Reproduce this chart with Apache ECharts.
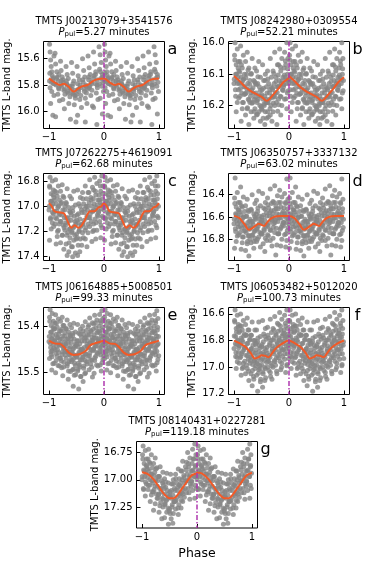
<!DOCTYPE html>
<html><head><meta charset="utf-8">
<script src="https://cdn.jsdelivr.net/npm/echarts@6/dist/echarts.min.js"></script>
<style>html,body{margin:0;padding:0;background:#fff}#c{width:374px;height:561px}</style>
</head><body><div id="c"></div>
<script>
// ---------- DATA ----------
const names = ['TMTS J00213079+3541576','TMTS J08242980+0309554','TMTS J07262275+4619091','TMTS J06350757+3337132','TMTS J06164885+5008501','TMTS J06053482+5012020','TMTS J08140431+0227281'];
const periods = ['5.27','52.21','62.68','63.02','99.33','100.73','119.18'];
const letters = ['a','b','c','d','e','f','g'];
const xTicks = [-1, 0, 1];
const yTicksA = [15.6, 15.8, 16.0];
const yTicksB = [16.0, 16.1, 16.2];
const yTicksC = [16.8, 17.0, 17.2, 17.4];
const yTicksD = [16.4, 16.6, 16.8];
const yTicksE = [15.4, 15.5];
const yTicksF = [16.6, 16.8, 17.0, 17.2];
const yTicksG = [16.75, 17.00, 17.25];
const phaseZero = 0;

// one pulsation cycle (phase 0..1); the figure shows it twice (-1..0 and 0..1)
const ptsA = [
[.01,15.49],[.02,15.55],[.03,15.61],[.04,15.66],[.05,15.70],[.06,15.73],[.07,15.76],[.08,15.79],[.02,15.82],[.05,15.85],[.09,15.88],[.03,15.94],[.07,16.03],[.09,15.58],[.01,15.77],
[.11,15.56],[.12,15.64],[.14,15.70],[.15,15.74],[.17,15.77],[.13,15.80],[.18,15.83],[.16,15.87],[.19,15.92],[.12,16.04],[.18,15.72],
[.21,15.62],[.22,15.69],[.24,15.74],[.26,15.78],[.23,15.81],[.27,15.84],[.29,15.87],[.25,15.91],[.28,15.98],[.22,15.77],
[.31,15.66],[.33,15.72],[.35,15.75],[.32,15.79],[.37,15.82],[.34,15.85],[.38,15.89],[.36,15.94],[.39,16.06],[.33,15.80],
[.41,15.63],[.43,15.71],[.45,15.77],[.42,15.81],[.47,15.84],[.44,15.87],[.48,15.90],[.46,15.95],[.49,16.08],[.42,15.86],
[.51,15.66],[.53,15.73],[.55,15.76],[.52,15.79],[.57,15.82],[.54,15.85],[.58,15.88],[.56,15.91],[.59,15.97],[.52,16.03],
[.61,15.60],[.63,15.69],[.65,15.74],[.62,15.78],[.67,15.80],[.64,15.83],[.68,15.86],[.66,15.90],[.69,15.94],[.66,16.08],
[.71,15.58],[.73,15.67],[.75,15.72],[.72,15.76],[.77,15.79],[.74,15.81],[.78,15.84],[.76,15.88],[.79,15.96],[.73,15.82],
[.81,15.55],[.83,15.64],[.85,15.70],[.82,15.73],[.87,15.76],[.84,15.79],[.88,15.82],[.86,15.86],[.89,15.91],[.81,15.97],[.87,16.10],
[.91,15.51],[.93,15.57],[.95,15.63],[.92,15.68],[.97,15.72],[.94,15.75],[.98,15.78],[.96,15.81],[.99,15.85],[.93,15.90],[.97,16.02],
[.015,15.71],[.075,15.745],[.045,15.78],[.135,15.75],[.105,15.79],[.175,15.82],[.255,15.76],[.215,15.80],[.285,15.83],[.315,15.77],[.375,15.81],[.345,15.86],
[.435,15.79],[.405,15.83],[.475,15.88],[.565,15.80],[.535,15.83],[.505,15.87],[.615,15.76],[.675,15.81],[.645,15.85],[.725,15.74],[.765,15.78],[.705,15.83],
[.845,15.72],[.805,15.75],[.875,15.80],[.935,15.70],[.975,15.74],[.915,15.79]
];
const ptsB = [
[.02,16.00],[.06,16.02],[.01,16.04],[.08,16.06],[.04,16.07],[.09,16.09],[.03,16.10],[.07,16.11],[.05,16.12],[.00,16.13],[.08,16.15],[.03,16.17],[.06,16.19],[.04,16.22],
[.12,16.01],[.17,16.04],[.11,16.06],[.15,16.08],[.19,16.10],[.13,16.11],[.16,16.12],[.10,16.13],[.18,16.14],[.14,16.16],[.11,16.17],[.17,16.19],[.15,16.21],[.13,16.25],
[.24,16.03],[.21,16.06],[.27,16.08],[.23,16.10],[.29,16.12],[.25,16.13],[.20,16.14],[.28,16.15],[.22,16.16],[.26,16.18],[.29,16.19],[.24,16.21],[.21,16.23],[.27,16.26],
[.33,16.05],[.38,16.08],[.31,16.10],[.36,16.12],[.39,16.13],[.32,16.15],[.35,16.16],[.30,16.17],[.37,16.18],[.34,16.19],[.38,16.21],[.31,16.22],[.36,16.24],
[.45,16.06],[.41,16.09],[.48,16.11],[.43,16.13],[.46,16.14],[.40,16.16],[.49,16.17],[.44,16.18],[.42,16.19],[.47,16.20],[.45,16.22],[.41,16.23],[.48,16.25],
[.52,16.07],[.57,16.10],[.54,16.12],[.59,16.14],[.51,16.15],[.56,16.17],[.53,16.18],[.58,16.19],[.55,16.20],[.50,16.21],[.57,16.22],[.53,16.24],[.56,16.26],
[.66,16.05],[.61,16.09],[.68,16.11],[.63,16.13],[.65,16.15],[.60,16.16],[.69,16.17],[.64,16.18],[.62,16.19],[.67,16.20],[.61,16.22],[.66,16.23],[.69,16.25],
[.74,16.03],[.79,16.07],[.71,16.09],[.76,16.11],[.73,16.13],[.78,16.14],[.70,16.15],[.75,16.16],[.72,16.17],[.77,16.19],[.74,16.20],[.71,16.22],[.78,16.26],
[.83,16.02],[.87,16.05],[.81,16.07],[.85,16.09],[.89,16.11],[.82,16.12],[.86,16.13],[.80,16.14],[.88,16.15],[.84,16.17],[.81,16.18],[.87,16.20],[.85,16.23],
[.96,16.00],[.92,16.03],[.98,16.05],[.94,16.07],[.91,16.08],[.97,16.10],[.93,16.11],[.99,16.12],[.95,16.13],[.90,16.14],[.97,16.16],[.92,16.18],[.96,16.21],
[.015,16.055],[.075,16.08],[.045,16.10],[.005,16.116],[.065,16.13],[.025,16.15],[.085,16.176],
[.135,16.07],[.105,16.094],[.175,16.115],[.145,16.13],[.115,16.146],[.185,16.165],[.155,16.19],
[.255,16.087],[.215,16.112],[.285,16.133],[.235,16.147],[.205,16.162],[.275,16.183],[.245,16.207],
[.315,16.098],[.375,16.124],[.345,16.143],[.305,16.158],[.385,16.172],[.325,16.193],[.365,16.219],
[.435,16.108],[.405,16.133],[.475,16.152],[.455,16.168],[.415,16.184],[.495,16.203],[.425,16.228],
[.565,16.12],[.535,16.145],[.505,16.165],[.585,16.181],[.545,16.195],[.515,16.214],[.595,16.24],
[.615,16.115],[.675,16.14],[.645,16.16],[.695,16.174],[.605,16.19],[.655,16.21],[.625,16.236],
[.725,16.098],[.765,16.123],[.705,16.144],[.785,16.158],[.745,16.173],[.715,16.192],[.795,16.218],
[.845,16.077],[.805,16.103],[.875,16.122],[.825,16.137],[.895,16.152],[.855,16.172],[.815,16.197],
[.935,16.058],[.975,16.083],[.915,16.103],[.955,16.118],[.905,16.134],[.985,16.153],[.945,16.178]
];
const ptsC = [
[.02,16.77],[.06,16.80],[.01,16.84],[.08,16.87],[.04,16.90],[.09,16.93],[.03,16.96],[.07,16.98],[.05,17.00],[.00,17.03],[.08,17.06],[.03,17.09],[.06,17.13],[.04,17.18],[.01,17.27],
[.12,16.79],[.17,16.84],[.11,16.88],[.15,16.92],[.19,16.95],[.13,16.98],[.16,17.01],[.10,17.04],[.18,17.07],[.14,17.10],[.11,17.14],[.17,17.19],[.15,17.24],[.13,17.30],
[.24,16.83],[.21,16.88],[.27,16.93],[.23,16.97],[.29,17.00],[.25,17.03],[.20,17.06],[.28,17.09],[.22,17.12],[.26,17.15],[.29,17.19],[.24,17.23],[.21,17.29],[.27,17.34],
[.33,16.86],[.38,16.92],[.31,16.97],[.36,17.01],[.39,17.05],[.32,17.09],[.35,17.12],[.30,17.15],[.37,17.18],[.34,17.21],[.38,17.25],[.31,17.30],[.36,17.36],[.33,17.39],
[.45,16.88],[.41,16.94],[.48,16.99],[.43,17.04],[.46,17.08],[.40,17.11],[.49,17.14],[.44,17.17],[.42,17.20],[.47,17.23],[.45,17.27],[.41,17.32],[.48,17.37],[.43,17.40],
[.52,16.87],[.57,16.93],[.54,16.98],[.59,17.03],[.51,17.07],[.56,17.10],[.53,17.13],[.58,17.16],[.55,17.19],[.50,17.22],[.57,17.26],[.53,17.31],[.56,17.36],[.52,17.39],
[.66,16.84],[.61,16.89],[.68,16.94],[.63,16.98],[.65,17.02],[.60,17.05],[.69,17.08],[.64,17.11],[.62,17.14],[.67,17.17],[.61,17.21],[.66,17.26],[.69,17.32],
[.74,16.79],[.79,16.85],[.71,16.89],[.76,16.93],[.73,16.97],[.78,17.00],[.70,17.03],[.75,17.06],[.72,17.09],[.77,17.12],[.74,17.16],[.71,17.21],[.78,17.28],
[.83,16.77],[.87,16.82],[.81,16.87],[.85,16.91],[.89,16.95],[.82,16.98],[.86,17.01],[.80,17.04],[.88,17.07],[.84,17.10],[.81,17.14],[.87,17.19],[.85,17.26],
[.96,16.76],[.92,16.80],[.98,16.84],[.94,16.88],[.91,16.91],[.97,16.94],[.93,16.97],[.99,17.00],[.95,17.02],[.90,17.05],[.97,17.08],[.92,17.12],[.96,17.17],[.94,17.25],
[.015,16.85],[.075,16.91],[.045,16.96],[.005,17.00],[.065,17.05],[.025,17.10],[.085,17.16],
[.135,16.89],[.105,16.95],[.175,17.00],[.145,17.04],[.115,17.09],[.185,17.14],[.155,17.20],
[.255,16.92],[.215,16.98],[.285,17.03],[.235,17.07],[.205,17.12],[.275,17.17],[.245,17.23],
[.315,16.98],[.375,17.04],[.345,17.09],[.305,17.13],[.385,17.18],[.325,17.23],[.365,17.29],
[.435,17.01],[.405,17.07],[.475,17.12],[.455,17.16],[.415,17.21],[.495,17.26],[.425,17.32],
[.565,17.00],[.535,17.06],[.505,17.11],[.585,17.15],[.545,17.20],[.515,17.25],[.595,17.31],
[.615,16.94],[.675,17.00],[.645,17.05],[.695,17.09],[.605,17.14],[.655,17.19],[.625,17.25],
[.725,16.89],[.765,16.95],[.705,17.00],[.785,17.04],[.745,17.09],[.715,17.14],[.795,17.20],
[.845,16.88],[.805,16.94],[.875,16.99],[.825,17.03],[.895,17.08],[.855,17.13],[.815,17.19],
[.935,16.84],[.975,16.90],[.915,16.95],[.955,16.99],[.905,17.04],[.985,17.09],[.945,17.15]
];
const ptsD = [
[.02,16.25],[.06,16.38],[.01,16.43],[.08,16.47],[.04,16.51],[.09,16.54],[.03,16.57],[.07,16.60],[.05,16.63],[.00,16.66],[.08,16.69],[.03,16.73],[.06,16.77],[.04,16.82],[.01,16.88],
[.12,16.33],[.17,16.42],[.11,16.47],[.15,16.51],[.19,16.55],[.13,16.58],[.16,16.61],[.10,16.64],[.18,16.67],[.14,16.70],[.11,16.74],[.17,16.78],[.15,16.83],[.13,16.89],
[.24,16.44],[.21,16.50],[.27,16.55],[.23,16.59],[.29,16.62],[.25,16.65],[.20,16.68],[.28,16.71],[.22,16.74],[.26,16.77],[.29,16.80],[.24,16.84],[.21,16.90],[.27,16.95],
[.33,16.40],[.38,16.48],[.31,16.53],[.36,16.57],[.39,16.61],[.32,16.64],[.35,16.67],[.30,16.70],[.37,16.73],[.34,16.76],[.38,16.79],[.31,16.83],[.36,16.88],
[.45,16.37],[.41,16.45],[.48,16.50],[.43,16.55],[.46,16.59],[.40,16.62],[.49,16.65],[.44,16.68],[.42,16.71],[.47,16.74],[.45,16.78],[.41,16.82],[.48,16.87],
[.52,16.39],[.57,16.47],[.54,16.52],[.59,16.56],[.51,16.60],[.56,16.63],[.53,16.66],[.58,16.69],[.55,16.72],[.50,16.75],[.57,16.79],[.53,16.84],[.56,16.91],
[.66,16.35],[.61,16.43],[.68,16.48],[.63,16.52],[.65,16.56],[.60,16.59],[.69,16.62],[.64,16.65],[.62,16.68],[.67,16.72],[.61,16.76],[.66,16.81],[.69,16.86],
[.74,16.32],[.79,16.41],[.71,16.46],[.76,16.50],[.73,16.54],[.78,16.57],[.70,16.60],[.75,16.63],[.72,16.66],[.77,16.70],[.74,16.74],[.71,16.79],[.78,16.85],[.76,16.94],
[.83,16.36],[.87,16.42],[.81,16.47],[.85,16.51],[.89,16.55],[.82,16.58],[.86,16.61],[.80,16.64],[.88,16.67],[.84,16.71],[.81,16.75],[.87,16.80],[.85,16.86],
[.96,16.26],[.92,16.39],[.98,16.44],[.94,16.48],[.91,16.52],[.97,16.56],[.93,16.59],[.99,16.62],[.95,16.65],[.90,16.68],[.97,16.72],[.92,16.76],[.96,16.81],[.94,16.87],
[.015,16.48],[.075,16.535],[.045,16.58],[.005,16.62],[.065,16.66],[.025,16.705],[.085,16.76],
[.135,16.50],[.105,16.555],[.175,16.60],[.145,16.64],[.115,16.68],[.185,16.725],[.155,16.78],
[.255,16.54],[.215,16.595],[.285,16.64],[.235,16.68],[.205,16.72],[.275,16.765],[.245,16.82],
[.315,16.54],[.375,16.595],[.345,16.64],[.305,16.68],[.385,16.72],[.325,16.765],[.365,16.82],
[.435,16.52],[.405,16.575],[.475,16.62],[.455,16.66],[.415,16.70],[.495,16.745],[.425,16.80],
[.565,16.53],[.535,16.585],[.505,16.63],[.585,16.67],[.545,16.71],[.515,16.755],[.595,16.81],
[.615,16.49],[.675,16.545],[.645,16.59],[.695,16.63],[.605,16.67],[.655,16.715],[.625,16.77],
[.725,16.47],[.765,16.525],[.705,16.57],[.785,16.61],[.745,16.65],[.715,16.695],[.795,16.75],
[.845,16.47],[.805,16.525],[.875,16.57],[.825,16.61],[.895,16.65],[.855,16.695],[.815,16.75],
[.935,16.47],[.975,16.525],[.915,16.57],[.955,16.61],[.905,16.65],[.985,16.695],[.945,16.75]
];
const ptsE = [
[.02,15.364],[.06,15.372],[.01,15.380],[.08,15.389],[.04,15.398],[.09,15.406],[.03,15.413],[.07,15.420],[.05,15.427],[.00,15.433],[.08,15.439],[.03,15.446],[.06,15.453],[.04,15.461],[.01,15.470],[.07,15.481],[.05,15.495],
[.12,15.375],[.17,15.384],[.11,15.393],[.15,15.402],[.19,15.410],[.13,15.417],[.16,15.424],[.10,15.431],[.18,15.437],[.14,15.443],[.11,15.450],[.17,15.457],[.15,15.465],[.13,15.474],[.19,15.486],[.12,15.501],
[.24,15.380],[.21,15.389],[.27,15.398],[.23,15.406],[.29,15.414],[.25,15.421],[.20,15.428],[.28,15.435],[.22,15.441],[.26,15.447],[.29,15.454],[.24,15.461],[.21,15.469],[.27,15.478],[.23,15.490],[.25,15.507],
[.33,15.386],[.38,15.396],[.31,15.405],[.36,15.413],[.39,15.421],[.32,15.428],[.35,15.435],[.30,15.442],[.37,15.448],[.34,15.455],[.38,15.462],[.31,15.469],[.36,15.477],[.33,15.486],[.39,15.498],[.35,15.515],
[.45,15.393],[.41,15.403],[.48,15.412],[.43,15.420],[.46,15.428],[.40,15.435],[.49,15.442],[.44,15.449],[.42,15.456],[.47,15.463],[.45,15.470],[.41,15.477],[.48,15.485],[.43,15.494],[.46,15.506],[.44,15.530],
[.52,15.396],[.57,15.406],[.54,15.415],[.59,15.423],[.51,15.431],[.56,15.438],[.53,15.445],[.58,15.452],[.55,15.459],[.50,15.466],[.57,15.473],[.53,15.480],[.56,15.488],[.52,15.497],[.58,15.509],[.54,15.536],
[.66,15.390],[.61,15.400],[.68,15.409],[.63,15.417],[.65,15.425],[.60,15.432],[.69,15.439],[.64,15.446],[.62,15.453],[.67,15.460],[.61,15.467],[.66,15.474],[.69,15.482],[.63,15.491],[.65,15.503],[.62,15.520],
[.74,15.382],[.79,15.392],[.71,15.401],[.76,15.409],[.73,15.417],[.78,15.424],[.70,15.431],[.75,15.438],[.72,15.444],[.77,15.451],[.74,15.458],[.71,15.465],[.78,15.473],[.76,15.482],[.73,15.494],[.79,15.510],
[.83,15.376],[.87,15.386],[.81,15.395],[.85,15.403],[.89,15.411],[.82,15.418],[.86,15.425],[.80,15.431],[.88,15.437],[.84,15.443],[.81,15.450],[.87,15.457],[.85,15.465],[.83,15.474],[.89,15.486],[.82,15.502],
[.96,15.366],[.92,15.374],[.98,15.383],[.94,15.392],[.91,15.400],[.97,15.408],[.93,15.415],[.99,15.422],[.95,15.428],[.90,15.434],[.97,15.440],[.92,15.447],[.96,15.454],[.94,15.462],[.98,15.472],[.93,15.484],[.95,15.497],
[.015,15.389],[.075,15.403],[.045,15.412],[.005,15.422],[.065,15.429],[.025,15.437],[.085,15.447],[.035,15.455],[.055,15.466],[.095,15.480],
[.135,15.393],[.105,15.405],[.175,15.417],[.145,15.425],[.115,15.434],[.185,15.441],[.155,15.451],[.125,15.459],[.195,15.469],[.165,15.485],
[.255,15.398],[.215,15.410],[.285,15.421],[.235,15.428],[.205,15.438],[.275,15.446],[.245,15.455],[.295,15.462],[.225,15.475],[.265,15.488],
[.315,15.405],[.375,15.419],[.345,15.427],[.305,15.438],[.385,15.444],[.325,15.455],[.365,15.461],[.395,15.472],[.335,15.481],[.355,15.497],
[.435,15.415],[.405,15.427],[.475,15.439],[.455,15.446],[.415,15.456],[.495,15.463],[.425,15.473],[.465,15.480],[.445,15.493],[.485,15.505],
[.565,15.417],[.535,15.431],[.505,15.439],[.585,15.450],[.545,15.456],[.515,15.467],[.595,15.473],[.555,15.484],[.525,15.493],[.575,15.509],
[.615,15.410],[.675,15.424],[.645,15.432],[.695,15.443],[.605,15.449],[.655,15.460],[.625,15.466],[.685,15.477],[.635,15.486],[.665,15.501],
[.725,15.397],[.765,15.411],[.705,15.419],[.785,15.430],[.745,15.436],[.715,15.447],[.795,15.453],[.735,15.464],[.755,15.473],[.775,15.489],
[.845,15.392],[.805,15.406],[.875,15.414],[.825,15.425],[.895,15.431],[.855,15.442],[.815,15.448],[.885,15.459],[.835,15.468],[.865,15.484],
[.935,15.388],[.975,15.402],[.915,15.410],[.955,15.421],[.905,15.427],[.985,15.438],[.945,15.444],[.925,15.455],[.995,15.464],[.965,15.479]
];
const ptsF = [
[.02,16.57],[.06,16.61],[.01,16.65],[.08,16.68],[.04,16.71],[.09,16.74],[.03,16.77],[.07,16.80],[.05,16.83],[.00,16.86],[.08,16.89],[.03,16.92],[.06,16.96],[.04,17.01],
[.12,16.60],[.17,16.65],[.11,16.69],[.15,16.72],[.19,16.75],[.13,16.78],[.16,16.81],[.10,16.84],[.18,16.87],[.14,16.90],[.11,16.93],[.17,16.97],[.15,17.01],[.13,17.06],
[.24,16.63],[.21,16.68],[.27,16.72],[.23,16.76],[.29,16.79],[.25,16.82],[.20,16.85],[.28,16.88],[.22,16.91],[.26,16.94],[.29,16.97],[.24,17.01],[.21,17.05],[.27,17.10],
[.33,16.66],[.38,16.72],[.31,16.76],[.36,16.80],[.39,16.83],[.32,16.86],[.35,16.89],[.30,16.92],[.37,16.95],[.34,16.98],[.38,17.01],[.31,17.05],[.36,17.09],[.33,17.14],
[.45,16.66],[.41,16.72],[.48,16.77],[.43,16.81],[.46,16.84],[.40,16.87],[.49,16.90],[.44,16.93],[.42,16.96],[.47,16.99],[.45,17.02],[.41,17.06],[.48,17.11],[.43,17.18],
[.52,16.65],[.57,16.71],[.54,16.75],[.59,16.79],[.51,16.83],[.56,16.86],[.53,16.89],[.58,16.92],[.55,16.95],[.50,16.98],[.57,17.01],[.53,17.05],[.56,17.10],[.52,17.15],
[.66,16.64],[.61,16.70],[.68,16.74],[.63,16.78],[.65,16.82],[.60,16.85],[.69,16.88],[.64,16.91],[.62,16.94],[.67,16.97],[.61,17.00],[.66,17.04],[.69,17.09],
[.74,16.62],[.79,16.67],[.71,16.71],[.76,16.75],[.73,16.78],[.78,16.81],[.70,16.84],[.75,16.87],[.72,16.90],[.77,16.93],[.74,16.96],[.71,17.00],[.78,17.05],
[.83,16.59],[.87,16.64],[.81,16.68],[.85,16.72],[.89,16.75],[.82,16.78],[.86,16.81],[.80,16.84],[.88,16.87],[.84,16.90],[.81,16.93],[.87,16.97],[.85,17.02],
[.96,16.57],[.92,16.61],[.98,16.65],[.94,16.69],[.91,16.72],[.97,16.75],[.93,16.78],[.99,16.81],[.95,16.84],[.90,16.87],[.97,16.90],[.92,16.94],[.96,16.99],[.94,17.04],
[.015,16.66],[.075,16.70],[.045,16.735],[.005,16.765],[.065,16.795],[.025,16.825],[.085,16.855],[.035,16.89],[.055,16.925],[.095,16.97],
[.135,16.69],[.105,16.73],[.175,16.765],[.145,16.795],[.115,16.825],[.185,16.855],[.155,16.885],[.125,16.92],[.195,16.955],[.165,17.00],
[.255,16.72],[.215,16.76],[.285,16.795],[.235,16.825],[.205,16.855],[.275,16.885],[.245,16.915],[.295,16.95],[.225,16.985],[.265,17.03],
[.315,16.76],[.375,16.80],[.345,16.835],[.305,16.865],[.385,16.895],[.325,16.925],[.365,16.955],[.395,16.99],[.335,17.025],[.355,17.07],
[.435,16.78],[.405,16.82],[.475,16.855],[.455,16.885],[.415,16.915],[.495,16.945],[.425,16.975],[.465,17.01],[.445,17.045],[.485,17.09],
[.565,16.77],[.535,16.81],[.505,16.845],[.585,16.875],[.545,16.905],[.515,16.935],[.595,16.965],[.555,17.00],[.525,17.035],[.575,17.08],
[.615,16.76],[.675,16.80],[.645,16.835],[.695,16.865],[.605,16.895],[.655,16.925],[.625,16.955],[.685,16.99],[.635,17.025],[.665,17.07],
[.725,16.72],[.765,16.76],[.705,16.795],[.785,16.825],[.745,16.855],[.715,16.885],[.795,16.915],[.735,16.95],[.755,16.985],[.775,17.03],
[.845,16.69],[.805,16.73],[.875,16.765],[.825,16.795],[.895,16.825],[.855,16.855],[.815,16.885],[.885,16.92],[.835,16.955],[.865,17.00],
[.935,16.67],[.975,16.71],[.915,16.745],[.955,16.775],[.905,16.805],[.985,16.835],[.945,16.865],[.925,16.90],[.995,16.935],[.965,16.98]
];
const ptsG = [
[.02,16.69],[.06,16.73],[.01,16.77],[.08,16.81],[.04,16.85],[.09,16.88],[.03,16.91],[.07,16.94],[.05,16.97],[.00,17.00],[.08,17.04],[.03,17.09],[.06,17.15],
[.12,16.72],[.17,16.77],[.11,16.81],[.15,16.85],[.19,16.89],[.13,16.92],[.16,16.95],[.10,16.98],[.18,17.01],[.14,17.05],[.11,17.09],[.17,17.14],[.15,17.20],
[.24,16.80],[.21,16.85],[.27,16.89],[.23,16.93],[.29,16.97],[.25,17.00],[.20,17.03],[.28,17.06],[.22,17.09],[.26,17.13],[.29,17.17],[.24,17.22],[.21,17.28],
[.33,16.88],[.38,16.93],[.31,16.97],[.36,17.01],[.39,17.05],[.32,17.08],[.35,17.11],[.30,17.14],[.37,17.17],[.34,17.21],[.38,17.25],[.31,17.30],[.36,17.36],
[.45,16.94],[.41,16.99],[.48,17.03],[.43,17.07],[.46,17.10],[.40,17.13],[.49,17.16],[.44,17.19],[.42,17.22],[.47,17.26],[.45,17.30],[.41,17.35],[.48,17.41],
[.52,16.95],[.57,17.00],[.54,17.04],[.59,17.08],[.51,17.11],[.56,17.14],[.53,17.17],[.58,17.20],[.55,17.23],[.50,17.27],[.57,17.31],[.53,17.36],[.56,17.40],
[.66,16.90],[.61,16.95],[.68,16.99],[.63,17.03],[.65,17.07],[.60,17.10],[.69,17.13],[.64,17.16],[.62,17.19],[.67,17.23],[.61,17.27],[.66,17.32],
[.74,16.83],[.79,16.88],[.71,16.92],[.76,16.96],[.73,17.00],[.78,17.03],[.70,17.06],[.75,17.09],[.72,17.12],[.77,17.16],[.74,17.20],[.71,17.26],
[.83,16.75],[.87,16.80],[.81,16.84],[.85,16.88],[.89,16.92],[.82,16.95],[.86,16.98],[.80,17.01],[.88,17.04],[.84,17.08],[.81,17.12],[.87,17.18],
[.96,16.67],[.92,16.72],[.98,16.77],[.94,16.81],[.91,16.85],[.97,16.88],[.93,16.91],[.99,16.94],[.95,16.97],[.90,17.01],[.97,17.05],[.92,17.10],[.96,17.17],
[.015,16.81],[.075,16.87],[.045,16.92],[.005,16.97],[.065,17.02],[.025,17.08],
[.135,16.84],[.105,16.90],[.175,16.95],[.145,17.00],[.115,17.05],[.185,17.11],
[.255,16.90],[.215,16.96],[.285,17.01],[.235,17.06],[.205,17.11],[.275,17.17],
[.315,16.97],[.375,17.03],[.345,17.08],[.305,17.13],[.385,17.18],[.325,17.24],
[.435,17.02],[.405,17.08],[.475,17.13],[.455,17.18],[.415,17.23],[.495,17.29],
[.565,17.04],[.535,17.10],[.505,17.15],[.585,17.20],[.545,17.25],[.515,17.31],
[.615,16.99],[.675,17.05],[.645,17.10],[.695,17.15],[.605,17.20],[.655,17.26],
[.725,16.92],[.765,16.98],[.705,17.03],[.785,17.08],[.745,17.13],[.715,17.19],
[.845,16.85],[.805,16.91],[.875,16.96],[.825,17.01],[.895,17.06],[.855,17.12],
[.935,16.81],[.975,16.87],[.915,16.92],[.955,16.97],[.905,17.02],[.985,17.08]
];

// smoothed model curves over one cycle
const curvePhA = [0,.1,.2,.27,.35,.45,.52,.6,.7,.8,.9,1];
const curveMagA = [15.75,15.78,15.80,15.79,15.81,15.85,15.83,15.81,15.80,15.77,15.755,15.75];
const curvePhB = [0,.1,.2,.3,.4,.5,.6,.65,.7,.8,.9,1];
const curveMagB = [16.106,16.122,16.14,16.153,16.163,16.172,16.185,16.178,16.168,16.148,16.125,16.11];
const curvePhC = [0,.05,.1,.2,.27,.33,.41,.47,.53,.58,.65,.75,.82,.9,.95,1];
const curveMagC = [16.975,17.0,17.04,17.05,17.055,17.11,17.17,17.15,17.17,17.16,17.11,17.04,17.04,17.01,17.0,16.975];
const curvePhD = [0,.1,.15,.2,.27,.33,.4,.45,.5,.55,.6,.67,.75,.85,1];
const curveMagD = [16.59,16.61,16.64,16.67,16.715,16.70,16.675,16.66,16.67,16.68,16.65,16.615,16.595,16.59,16.59];
const curvePhE = [0,.1,.2,.28,.36,.45,.53,.6,.67,.75,.83,.92,1];
const curveMagE = [15.431,15.437,15.438,15.446,15.457,15.462,15.461,15.458,15.453,15.441,15.437,15.434,15.431];
const curvePhF = [0,.1,.2,.3,.38,.45,.5,.57,.63,.7,.77,.87,1];
const curveMagF = [16.80,16.82,16.845,16.89,16.935,16.925,16.91,16.915,16.925,16.89,16.855,16.825,16.80];
const curvePhG = [0,.1,.2,.3,.4,.5,.58,.66,.73,.8,.9,1];
const curveMagG = [16.93,16.945,16.99,17.06,17.13,17.17,17.17,17.13,17.08,17.03,16.96,16.935];

// ---------- LAYOUT / STYLE ----------
const FONT = 'DejaVu Sans';
const W = 121, H = 87;
const gridPos = [[43.5,41.5],[228.5,41.5],[43.5,173.5],[228.5,173.5],[43.5,307.5],[228.5,307.5],[136.5,441.5]];
const yRange = [[15.47,16.13],[15.996,16.273],[16.74,17.43],[16.21,16.99],[15.359,15.548],[16.552,17.205],[16.648,17.444]];
const yDec = [1,1,1,1,1,1,2];
const yNameGap = [31,31,31,31,31,31,34];

const panels = [
  {pts:ptsA, cph:curvePhA, cmag:curveMagA, yt:yTicksA},
  {pts:ptsB, cph:curvePhB, cmag:curveMagB, yt:yTicksB},
  {pts:ptsC, cph:curvePhC, cmag:curveMagC, yt:yTicksC},
  {pts:ptsD, cph:curvePhD, cmag:curveMagD, yt:yTicksD},
  {pts:ptsE, cph:curvePhE, cmag:curveMagE, yt:yTicksE},
  {pts:ptsF, cph:curvePhF, cmag:curveMagF, yt:yTicksF},
  {pts:ptsG, cph:curvePhG, cmag:curveMagG, yt:yTicksG}
];

const twoCycles = pts => pts.map(p => [p[0]-1, p[1]]).concat(pts);
const curveTwo = (ph, mg) => ph.map((p,i)=>[p-1, mg[i]]).concat(ph.map((p,i)=>[p, mg[i]]));
const fmtX = v => v < 0 ? '\u2212' + (-v) : String(v);

const grid=[], xAxis=[], yAxis=[], series=[], graphic=[];
panels.forEach((p,i) => {
  const [l,t] = gridPos[i];
  grid.push({left:l, top:t, width:W, height:H, show:true, borderColor:'#000', borderWidth:1, backgroundColor:'rgba(0,0,0,0)'});
  xAxis.push({
    type:'value', gridIndex:i, min:-1.1, max:1.1, position:'bottom',
    axisLine:{show:false, onZero:false}, splitLine:{show:false}, axisPointer:{show:false},
    axisTick:{show:true, inside:true, length:4, customValues:xTicks, lineStyle:{color:'#000', width:1}},
    axisLabel:{customValues:xTicks, formatter:fmtX, fontSize:10, color:'#000', margin:4, fontFamily:FONT},
    name: i === 6 ? 'Phase' : '', nameLocation:'middle', nameGap:19,
    nameTextStyle:{fontSize:12.5, color:'#000', fontFamily:FONT}
  });
  yAxis.push({
    type:'value', gridIndex:i, inverse:true, min:yRange[i][0], max:yRange[i][1], position:'left',
    axisLine:{show:false, onZero:false}, splitLine:{show:false}, axisPointer:{show:false},
    axisTick:{show:true, inside:true, length:4, customValues:p.yt, lineStyle:{color:'#000', width:1}},
    axisLabel:{customValues:p.yt, formatter: v => v.toFixed(yDec[i]), fontSize:10, color:'#000', margin:4, fontFamily:FONT},
    name:'TMTS L-band mag.', nameLocation:'middle', nameRotate:90, nameGap:yNameGap[i],
    nameTextStyle:{fontSize:10, color:'#000', fontFamily:FONT}
  });
  series.push({type:'scatter', xAxisIndex:i, yAxisIndex:i, data:twoCycles(p.pts), symbol:'circle', symbolSize:5,
    itemStyle:{color:'#858585'}, silent:true, z:2});
  series.push({type:'line', xAxisIndex:i, yAxisIndex:i, data:curveTwo(p.cph, p.cmag), showSymbol:false, smooth:0.35,
    lineStyle:{color:'#f05a28', width:2}, silent:true, z:3});
  // vertical reference line at phase 0, spanning the full axis range
  series.push({type:'line', xAxisIndex:i, yAxisIndex:i, data:[[phaseZero, yRange[i][0]],[phaseZero, yRange[i][1]]],
    showSymbol:false, symbol:'none', silent:true, z:4,
    lineStyle:{color:'rgba(175,55,175,0.75)', width:2, type:[5,2,1.5,2]}});
  const cx = l + W/2;
  graphic.push({type:'text', x:cx, y:t-20.5, style:{text:names[i], fill:'#000', fontSize:10, fontFamily:FONT, align:'center', verticalAlign:'middle'}});
  graphic.push({type:'text', x:cx, y:t-9.5, style:{
    text:'{i|P}{s|pul}{n|=' + periods[i] + ' minutes}', align:'center', verticalAlign:'middle', fill:'#000', fontSize:10, fontFamily:FONT,
    rich:{
      i:{fontSize:10, fontStyle:'italic', fontFamily:FONT, fill:'#000', lineHeight:12},
      s:{fontSize:7, fontFamily:FONT, fill:'#000', lineHeight:5, verticalAlign:'bottom'},
      n:{fontSize:10, fontFamily:FONT, fill:'#000', lineHeight:12}
    }}});
  graphic.push({type:'text', x:l + W + 8, y:t + 8.5, style:{text:letters[i], fill:'#000', fontSize:16, fontFamily:FONT, align:'center', verticalAlign:'middle'}});
});

const chart = echarts.init(document.getElementById('c'));
chart.setOption({animation:false, backgroundColor:'#fff', grid, xAxis, yAxis, series, graphic});
</script></body></html>
